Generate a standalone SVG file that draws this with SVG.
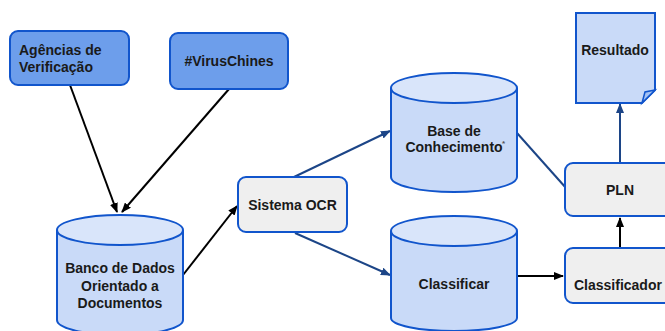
<svg xmlns="http://www.w3.org/2000/svg" width="665" height="331" viewBox="0 0 665 331">
<style>
text{font-family:"Liberation Sans",Arial,sans-serif;font-weight:bold;font-size:14px;fill:#1a1a1a}
.c{text-anchor:middle}
.dark{fill:#6d9eeb;stroke:#1155cc;stroke-width:2}
.grey{fill:#efefef;stroke:#1155cc;stroke-width:2}
.cyl{fill:#c9daf8;stroke:#1155cc;stroke-width:2}
.top{fill:#d9e5fa;stroke:#1155cc;stroke-width:2}
.k{stroke:#000;stroke-width:2;fill:none}
.b{stroke:#1c4587;stroke-width:2;fill:none}
</style>
<defs>
<marker id="ak" markerWidth="10" markerHeight="8" refX="9" refY="4" orient="auto" markerUnits="userSpaceOnUse"><path d="M0,0 L10,4 L0,8 z" fill="#000"/></marker>
<marker id="ab" markerWidth="10" markerHeight="8" refX="9" refY="4" orient="auto" markerUnits="userSpaceOnUse"><path d="M0,0 L10,4 L0,8 z" fill="#1c4587"/></marker>
</defs>
<g id="connectors">
<line class="k" x1="70" y1="85" x2="117" y2="212" marker-end="url(#ak)"/>
<line class="k" x1="229" y1="89" x2="122" y2="212" marker-end="url(#ak)"/>
<line class="k" x1="183" y1="275" x2="237" y2="206" marker-end="url(#ak)"/>
<line class="b" x1="294" y1="177" x2="390" y2="131" marker-end="url(#ab)"/>
<line class="b" x1="295" y1="233" x2="390" y2="275" marker-end="url(#ab)"/>
<line class="b" x1="517" y1="133" x2="566" y2="188"/>
<line class="k" x1="517" y1="276" x2="563" y2="276" marker-end="url(#ak)"/>
<line class="k" x1="620" y1="248" x2="620" y2="218" marker-end="url(#ak)"/>
<line class="b" x1="620" y1="163" x2="620" y2="104" marker-end="url(#ab)"/>
</g>
<g id="agencias">
<rect class="dark" x="10" y="31" width="119" height="54" rx="8"/>
<text x="19" y="55">Agências de</text>
<text x="19" y="72">Verificação</text>
</g>
<g id="virus">
<rect class="dark" x="170" y="33" width="118" height="56" rx="8"/>
<text class="c" x="229" y="66">#VirusChines</text>
</g>
<g id="banco">
<path class="cyl" d="M57,230 L57,320 A63,15 0 0 0 183,320 L183,230"/>
<ellipse class="top" cx="120" cy="230" rx="63" ry="15"/>
<text class="c" x="120" y="273">Banco de Dados</text>
<text class="c" x="120" y="291">Orientado a</text>
<text class="c" x="120" y="308">Documentos</text>
</g>
<g id="ocr">
<rect class="grey" x="238" y="177" width="109" height="55" rx="8"/>
<text class="c" x="292.5" y="210">Sistema OCR</text>
</g>
<g id="base">
<path class="cyl" d="M391,88 L391,177 A63,15 0 0 0 517,177 L517,88"/>
<ellipse class="top" cx="454" cy="88" rx="63" ry="15"/>
<text class="c" x="454" y="136">Base de</text>
<text class="c" x="454" y="152">Conhecimento</text>
<text x="502" y="146" style="font-size:8px;fill:#555">*</text>
</g>
<g id="classificar">
<path class="cyl" d="M391,231 L391,318 A63,13 0 0 0 517,318 L517,231"/>
<ellipse class="top" cx="454" cy="231" rx="63" ry="15"/>
<text class="c" x="454" y="289">Classificar</text>
</g>
<g id="classificador">
<rect class="grey" x="565" y="248" width="110" height="55" rx="8"/>
<text x="574" y="290">Classificador</text>
</g>
<g id="pln">
<rect class="grey" x="565" y="163" width="110" height="53" rx="8"/>
<text class="c" x="620" y="195">PLN</text>
</g>
<g id="resultado">
<path class="cyl" d="M576,13 L655,13 L655,90 L642,103 L576,103 Z"/>
<path d="M655,90 L645,92 L642,103 Z" fill="#a4c2f4" stroke="#1155cc" stroke-width="1.5"/>
<text class="c" x="615" y="55">Resultado</text>
</g>
</svg>
